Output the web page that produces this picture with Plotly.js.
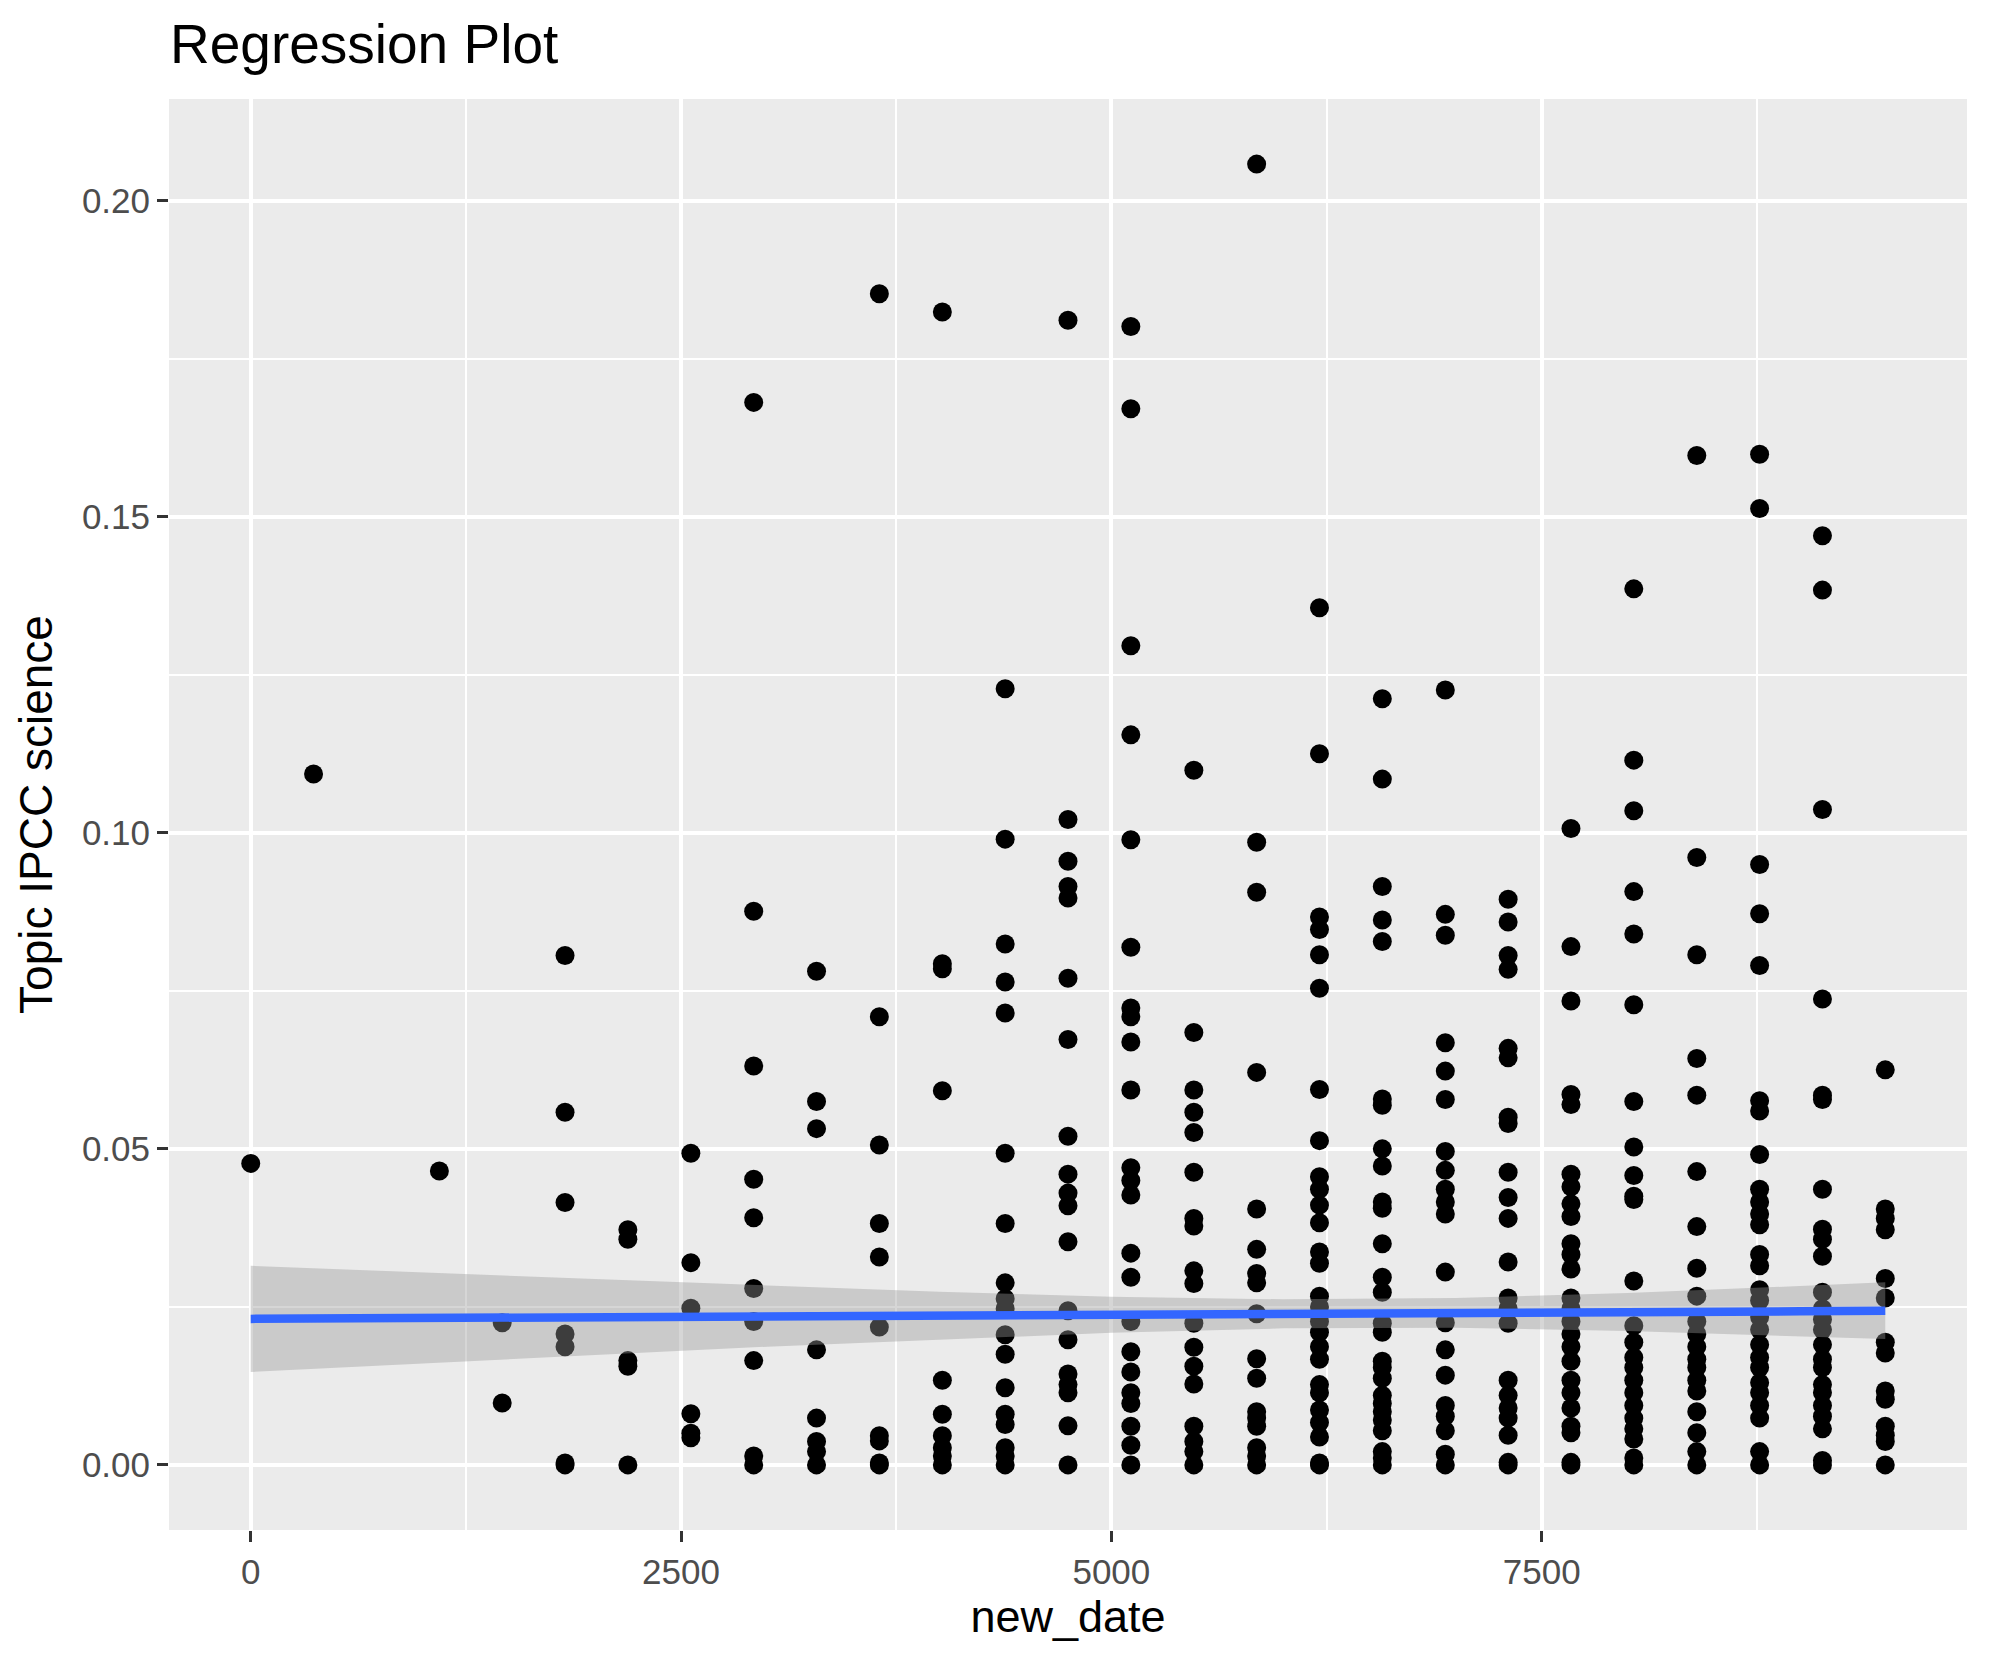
<!DOCTYPE html>
<html>
<head>
<meta charset="utf-8">
<script src="https://cdn.plot.ly/plotly-3.0.1.min.js"></script>
<style>html,body{margin:0;padding:0;background:#fff}#plot{width:1990px;height:1665px}</style>
</head>
<body>
<div id="plot"></div>
<script>
// Column positions (new_date) and the Topic IPCC science values observed at each
const dateColumns = [0, 365, 1096, 1461, 1826, 2191, 2557, 2922, 3287, 3652, 4018, 4383, 4748, 5113, 5479, 5844, 6209, 6574, 6940, 7305, 7670, 8035, 8401, 8766, 9131, 9496];
const topicValues = [
  [0.0477],
  [0.1093],
  [0.0465],
  [0.0225, 0.0098],
  [0.0806, 0.0558, 0.0415, 0.0207, 0.0187, 0.0003, 0.0],
  [0.0372, 0.0357, 0.0165, 0.0156, 0.0],
  [0.0493, 0.0320, 0.0248, 0.0081, 0.0050, 0.0043],
  [0.1681, 0.0876, 0.0631, 0.0452, 0.0391, 0.0279, 0.0227, 0.0165, 0.0014, 0.0],
  [0.0781, 0.0575, 0.0532, 0.0182, 0.0074, 0.0037, 0.0021, 0.0],
  [0.1853, 0.0709, 0.0506, 0.0382, 0.0329, 0.0218, 0.0046, 0.0038, 0.0003, 0.0],
  [0.1824, 0.0793, 0.0785, 0.0592, 0.0134, 0.0080, 0.0046, 0.0027, 0.0014, 0.0],
  [0.1228, 0.0990, 0.0824, 0.0764, 0.0715, 0.0493, 0.0382, 0.0288, 0.0263, 0.0247, 0.0206, 0.0175, 0.0122, 0.0080, 0.0064, 0.0027, 0.0014, 0.0],
  [0.1811, 0.1021, 0.0955, 0.0915, 0.0897, 0.0770, 0.0673, 0.0520, 0.0460, 0.0430, 0.0410, 0.0353, 0.0244, 0.0198, 0.0144, 0.0127, 0.0114, 0.0062, 0.0],
  [0.1801, 0.1671, 0.1296, 0.1155, 0.0989, 0.0819, 0.0723, 0.0709, 0.0669, 0.0593, 0.0470, 0.0450, 0.0427, 0.0335, 0.0297, 0.0227, 0.0179, 0.0147, 0.0114, 0.0097, 0.0061, 0.0031, 0.0],
  [0.1099, 0.0684, 0.0593, 0.0558, 0.0526, 0.0463, 0.0390, 0.0378, 0.0307, 0.0287, 0.0224, 0.0186, 0.0156, 0.0128, 0.0061, 0.0037, 0.0021, 0.0],
  [0.2058, 0.0985, 0.0906, 0.0621, 0.0405, 0.0341, 0.0303, 0.0288, 0.0239, 0.0168, 0.0137, 0.0084, 0.0074, 0.0061, 0.0027, 0.0014, 0.0],
  [0.1356, 0.1125, 0.0867, 0.0847, 0.0807, 0.0754, 0.0594, 0.0513, 0.0456, 0.0436, 0.0411, 0.0383, 0.0337, 0.0319, 0.0267, 0.0250, 0.0227, 0.0210, 0.0187, 0.0167, 0.0127, 0.0114, 0.0087, 0.0067, 0.0044, 0.0003, 0.0],
  [0.1212, 0.1085, 0.0915, 0.0862, 0.0828, 0.0579, 0.0569, 0.0500, 0.0473, 0.0416, 0.0406, 0.0350, 0.0297, 0.0273, 0.0224, 0.0210, 0.0164, 0.0154, 0.0137, 0.0110, 0.0097, 0.0084, 0.0071, 0.0054, 0.0021, 0.0011, 0.0],
  [0.1226, 0.0871, 0.0838, 0.0668, 0.0623, 0.0578, 0.0496, 0.0466, 0.0436, 0.0416, 0.0397, 0.0305, 0.0225, 0.0182, 0.0142, 0.0094, 0.0077, 0.0054, 0.0017, 0.0],
  [0.0895, 0.0859, 0.0806, 0.0784, 0.0659, 0.0644, 0.0550, 0.0540, 0.0463, 0.0423, 0.0390, 0.0321, 0.0264, 0.0247, 0.0224, 0.0134, 0.0110, 0.0090, 0.0074, 0.0047, 0.0004, 0.0],
  [0.1007, 0.0820, 0.0734, 0.0586, 0.0570, 0.0460, 0.0440, 0.0413, 0.0393, 0.0350, 0.0333, 0.0310, 0.0264, 0.0247, 0.0227, 0.0207, 0.0187, 0.0164, 0.0134, 0.0114, 0.0090, 0.0061, 0.0051, 0.0004, 0.0],
  [0.1386, 0.1115, 0.1035, 0.0907, 0.0840, 0.0728, 0.0575, 0.0503, 0.0458, 0.0425, 0.0420, 0.0291, 0.0220, 0.0194, 0.0170, 0.0154, 0.0134, 0.0114, 0.0094, 0.0074, 0.0057, 0.0041, 0.0011, 0.0],
  [0.1597, 0.0961, 0.0807, 0.0643, 0.0585, 0.0464, 0.0377, 0.0311, 0.0267, 0.0227, 0.0207, 0.0187, 0.0167, 0.0154, 0.0134, 0.0117, 0.0084, 0.0051, 0.0021, 0.0],
  [0.1599, 0.1513, 0.0950, 0.0872, 0.0790, 0.0576, 0.0560, 0.0491, 0.0436, 0.0416, 0.0397, 0.0380, 0.0333, 0.0315, 0.0277, 0.0260, 0.0234, 0.0214, 0.0190, 0.0170, 0.0154, 0.0130, 0.0114, 0.0094, 0.0074, 0.0021, 0.0],
  [0.1470, 0.1384, 0.1037, 0.0737, 0.0585, 0.0578, 0.0436, 0.0373, 0.0357, 0.0330, 0.0273, 0.0247, 0.0230, 0.0214, 0.0190, 0.0167, 0.0154, 0.0127, 0.0114, 0.0094, 0.0077, 0.0057, 0.0007, 0.0],
  [0.0625, 0.0405, 0.0390, 0.0372, 0.0295, 0.0264, 0.0194, 0.0177, 0.0117, 0.0104, 0.0061, 0.0047, 0.0037, 0.0]
];

// Fitted line and its confidence band
const fitX  = [0, 1000, 2000, 3000, 4000, 5000, 6000, 7000, 8000, 9000, 9496];
const fitY  = [0.0231, 0.0232, 0.0234, 0.0235, 0.0236, 0.0238, 0.0239, 0.0241, 0.0242, 0.0243, 0.0244];
const fitLo = [0.0147, 0.0160, 0.0174, 0.0187, 0.0198, 0.0209, 0.0216, 0.0217, 0.0212, 0.0203, 0.0199];
const fitHi = [0.0315, 0.0304, 0.0294, 0.0284, 0.0274, 0.0266, 0.0262, 0.0264, 0.0272, 0.0283, 0.0289];

const xTicks = [0, 2500, 5000, 7500];
const xTickLabels = ['0', '2500', '5000', '7500'];
const yTicks = [0, 0.05, 0.10, 0.15, 0.20];
const yTickLabels = ['0.00', '0.05', '0.10', '0.15', '0.20'];

const px = [], py = [];
dateColumns.forEach((d, i) => topicValues[i].forEach(v => { px.push(d); py.push(v); }));

const FONT = 'Liberation Sans, Arial, Helvetica, sans-serif';

const traces = [
  {
    type: 'scatter', mode: 'markers', x: px, y: py,
    marker: {color: '#000000', size: 19, line: {width: 0}},
    hoverinfo: 'x+y', showlegend: false
  },
  {
    type: 'scatter', mode: 'lines',
    x: fitX.concat(fitX.slice().reverse()),
    y: fitHi.concat(fitLo.slice().reverse()),
    fill: 'toself', fillcolor: 'rgba(153,153,153,0.4)',
    line: {width: 0, color: 'rgba(0,0,0,0)'},
    hoverinfo: 'skip', showlegend: false
  },
  {
    type: 'scatter', mode: 'lines', x: fitX, y: fitY,
    line: {color: '#3366FF', width: 8.5},
    hoverinfo: 'skip', showlegend: false
  }
];

const layout = {
  width: 1990, height: 1665,
  paper_bgcolor: '#FFFFFF', plot_bgcolor: '#EBEBEB',
  margin: {l: 169, r: 23, t: 99, b: 135, pad: 0},
  font: {family: FONT, color: '#000000'},
  title: {
    text: 'Regression Plot', font: {family: FONT, size: 55, color: '#000000'},
    xref: 'container', yref: 'container', x: 170/1990, xanchor: 'left',
    y: 1 - 44/1665, yanchor: 'middle'
  },
  xaxis: {
    range: [-474.8, 9970.8], autorange: false,
    tickvals: xTicks, ticktext: xTickLabels,
    showgrid: true, gridcolor: '#FFFFFF', gridwidth: 4,
    minor: {dtick: 1250, tick0: 0, showgrid: true, gridcolor: '#FFFFFF', gridwidth: 2, ticks: ''},
    zeroline: false, showline: false,
    ticks: 'outside', ticklen: 11, tickwidth: 3, tickcolor: '#333333',
    tickfont: {family: FONT, size: 35, color: '#4D4D4D'},
    title: {text: 'new_date', font: {family: FONT, size: 45, color: '#000000'}, standoff: 10}
  },
  yaxis: {
    range: [-0.0103, 0.2161], autorange: false,
    tickvals: yTicks, ticktext: yTickLabels,
    showgrid: true, gridcolor: '#FFFFFF', gridwidth: 4,
    minor: {dtick: 0.025, tick0: 0, showgrid: true, gridcolor: '#FFFFFF', gridwidth: 2, ticks: ''},
    zeroline: false, showline: false,
    ticks: 'outside', ticklen: 11, tickwidth: 3, tickcolor: '#333333',
    tickfont: {family: FONT, size: 35, color: '#4D4D4D'},
    title: {text: 'Topic IPCC science', font: {family: FONT, size: 46, color: '#000000'}, standoff: 14}
  },
  showlegend: false
};

Plotly.newPlot('plot', traces, layout, {staticPlot: true, displayModeBar: false});
</script>
</body>
</html>
